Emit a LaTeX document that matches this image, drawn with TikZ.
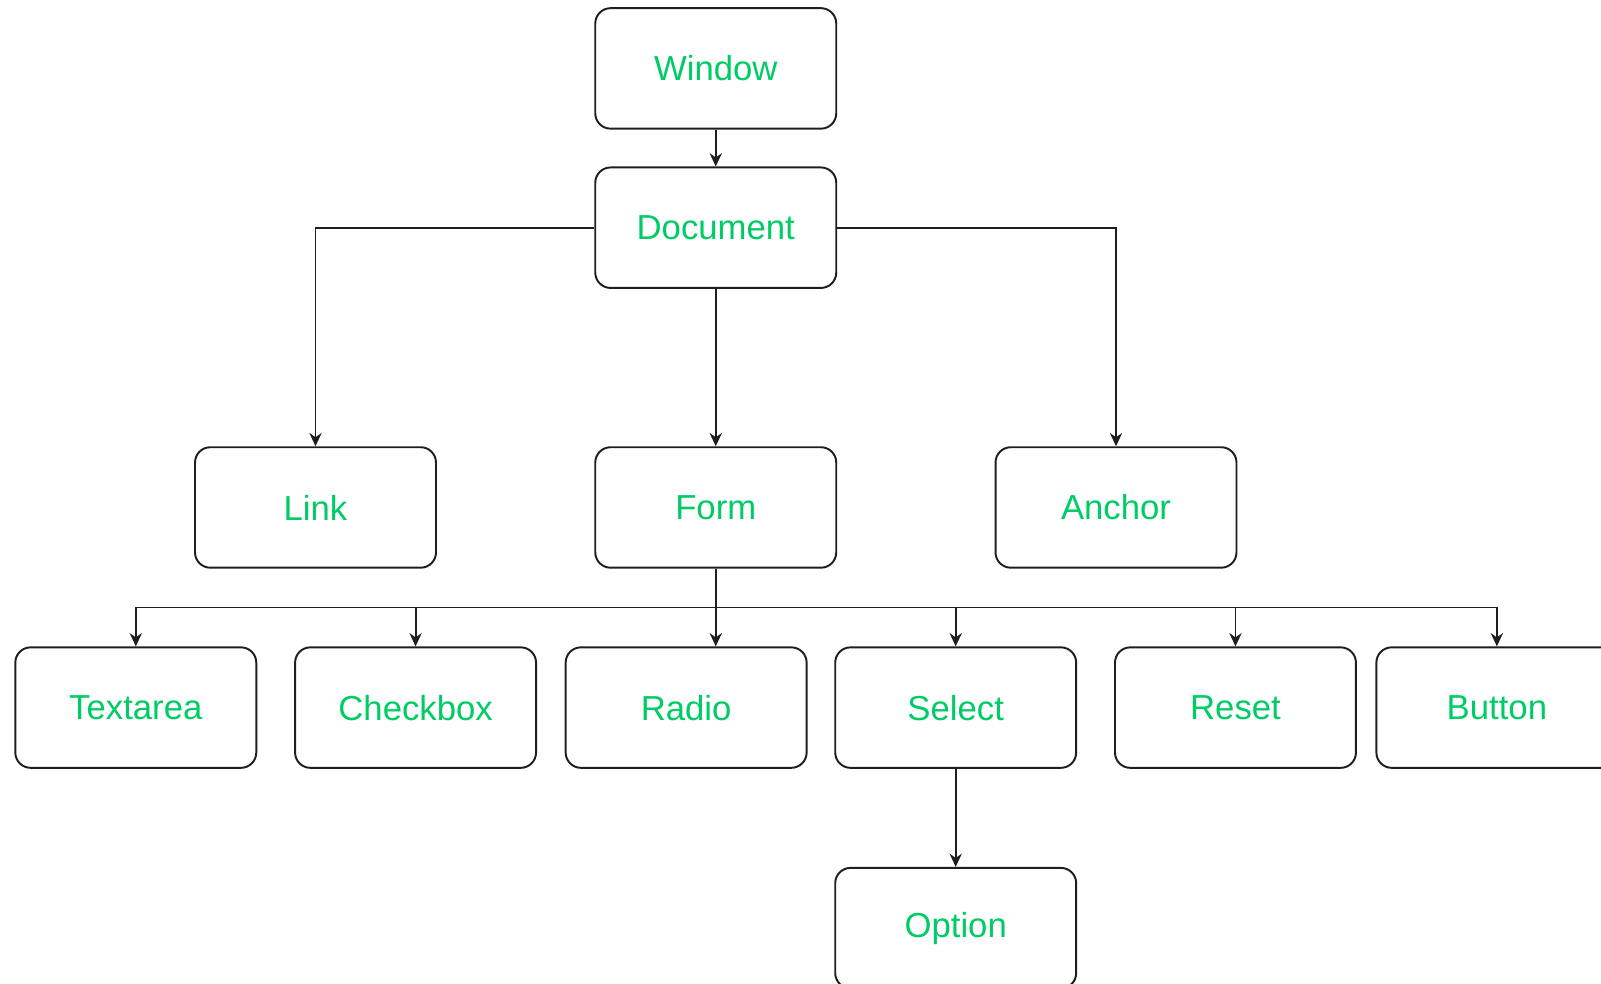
\documentclass[tikz,border=0pt]{standalone}
\usepackage{fontspec}
\setmainfont{Liberation Sans}
\usetikzlibrary{arrows.meta}
\definecolor{txtgreen}{RGB}{0,204,102}
\definecolor{linegray}{RGB}{30,30,30}
\begin{document}
\begin{tikzpicture}[x=1pt,y=-1pt,
  box/.style={draw=linegray, line width=1.9pt, rounded corners=15pt,
    minimum width=236pt, minimum height=118pt, inner sep=0pt,
    text=txtgreen, font=\fontsize{34}{40}\selectfont},
  conn/.style={draw=linegray, line width=1.9pt, -{Stealth[length=13pt,width=12pt]}},
  bus/.style={draw=linegray, line width=1.9pt}]
\useasboundingbox (0,0) rectangle (1568,963);
\clip (0,0) rectangle (1568,963);
\node[box] (window) at (701,67) {Window};
\node[box] (document) at (701,223) {Document};
\node[box] (link) at (309,497) {Link};
\node[box] (form) at (701,497) {Form};
\node[box] (anchor) at (1093,497) {Anchor};
\node[box] (textarea) at (133,693) {Textarea};
\node[box] (checkbox) at (407,693) {Checkbox};
\node[box] (radio) at (672,693) {Radio};
\node[box] (select) at (936,693) {Select};
\node[box] (reset) at (1210,693) {Reset};
\node[box] (button) at (1466,693) {Button};
\node[box] (option) at (936,909) {Option};
\draw[conn] (window) -- (document);
\draw[conn] (document.west) -| (link.north);
\draw[conn] (document.east) -| (anchor.north);
\draw[conn] (document) -- (form);
\coordinate (busy) at (701,595);
\draw[bus] (form.south) -- (busy);
\draw[conn] (busy) -| (textarea.north);
\draw[conn] (busy) -| (checkbox.north);
\draw[conn] (busy) -- (radio.north -| busy);
\draw[conn] (busy) -| (select.north);
\draw[conn] (busy) -| (reset.north);
\draw[conn] (busy) -| (button.north);
\draw[conn] (select) -- (option);
\end{tikzpicture}
\end{document}
